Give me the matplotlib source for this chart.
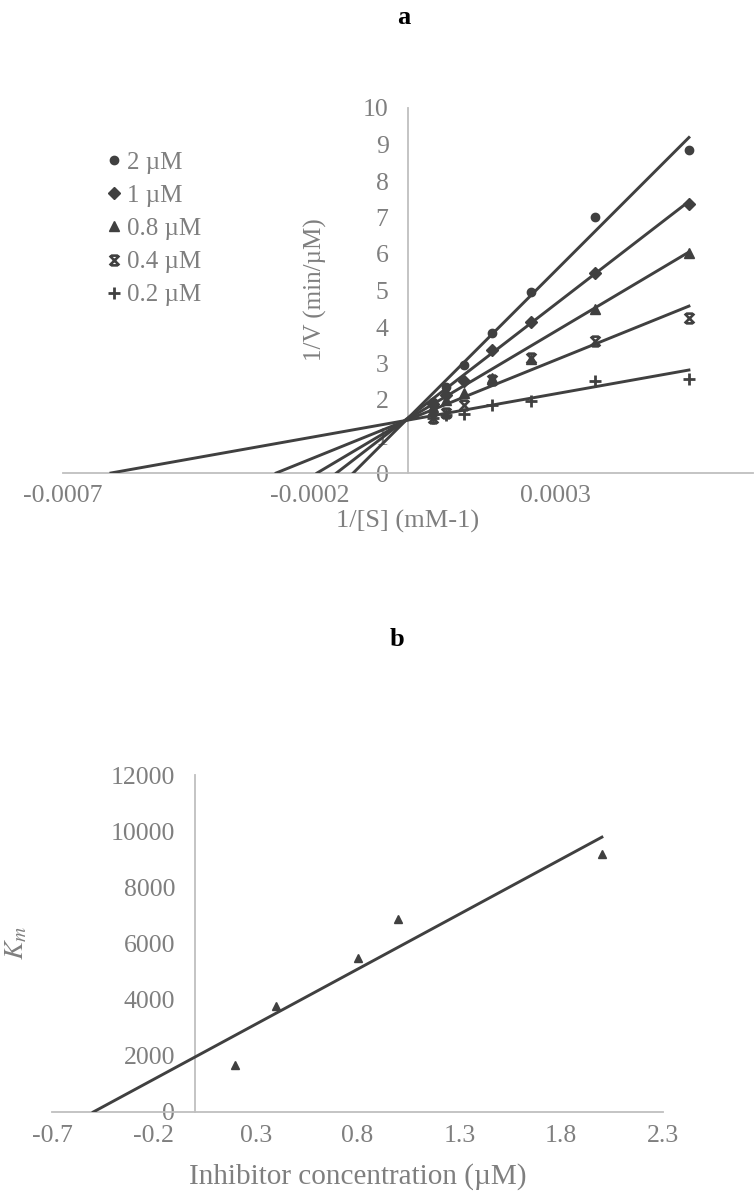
import numpy as np
import matplotlib
matplotlib.use("Agg")
import matplotlib.pyplot as plt
from matplotlib.path import Path

plt.rcParams['font.family'] = ['Liberation Serif', 'DejaVu Serif']
plt.rcParams['mathtext.fontset'] = 'stix'

#Panel a: Lineweaver-Burk data, 1/[S] and 1/V for each inhibitor concentration
inv_s = [0.00005, 0.000077, 0.000113, 0.00017, 0.00025, 0.00038, 0.00057]
v_2um = [1.95, 2.35, 2.96, 3.84, 4.95, 7.02, 8.84]
v_1um = [1.90, 2.15, 2.53, 3.38, 4.14, 5.49, 7.37]
v_08um = [1.80, 2.00, 2.19, 2.60, 3.11, 4.48, 6.02]
v_04um = [1.50, 1.65, 1.85, 2.56, 3.15, 3.62, 4.24]
v_02um = [1.50, 1.60, 1.62, 1.85, 1.96, 2.53, 2.58]
series_labels = ['2 µM', '1 µM', '0.8 µM', '0.4 µM', '0.2 µM']
#trendlines (slope, intercept)
slopes_a = [13495, 10406, 8024, 5460, 2406]
intercepts_a = [1.50, 1.51, 1.48, 1.46, 1.45]

#Panel b: secondary plot, Km vs inhibitor concentration
inhibitor = [0.2, 0.4, 0.8, 1.0, 2.0]
km_values = [1680, 3780, 5470, 6880, 9180]

text_gray = '#7f7f7f'
axis_gray = '#bfbfbf'
dark = '#404040'

#star marker: X with bars on top and bottom
star = Path([(-1, -1), (1, 1), (-1, 1), (1, -1), (-0.7, 1), (0.7, 1), (-0.7, -1), (0.7, -1)],
            [Path.MOVETO, Path.LINETO] * 4)
markers = [dict(marker='o', ms=6),
           dict(marker='D', ms=6.5),
           dict(marker='^', ms=7.5),
           dict(marker=star, ms=7, mew=1.9, mfc='none'),
           dict(marker='+', ms=8.5, mew=2)]

fig = plt.figure(figsize=(7.56, 12.02), dpi=100)


def style_axes(ax):
    for side in ['top', 'right']:
        ax.spines[side].set_visible(False)
    ax.spines['left'].set_position(('data', 0))
    ax.spines['bottom'].set_position(('data', 0))
    for side in ['left', 'bottom']:
        ax.spines[side].set_color(axis_gray)
        ax.spines[side].set_linewidth(1.3)
    ax.tick_params(length=0, labelsize=18.5, labelcolor=text_gray)
    ax.tick_params(axis='y', pad=14)
    ax.tick_params(axis='x', pad=9)
    ax.patch.set_alpha(0)


#Chart a
ax_a = fig.add_axes([63 / 756, 1 - 473 / 1202, 690 / 756, 365 / 1202])
style_axes(ax_a)
all_v = [v_2um, v_1um, v_08um, v_04um, v_02um]
handles = []
for v, m, b, mk in zip(all_v, slopes_a, intercepts_a, markers):
    x0 = -b / m
    xs = np.array([x0, max(inv_s)])
    ax_a.plot(xs, m * xs + b, color=dark, lw=2.1, zorder=3)
    h, = ax_a.plot(inv_s, v, ls='none', color=dark, mec=dark, zorder=4, **mk)
    handles.append(h)
ax_a.set_xlim(-0.0007, 0.0007)
ax_a.set_ylim(0, 10)
ax_a.set_xticks([-0.0007, -0.0002, 0.0003])
ax_a.set_xticklabels(['-0.0007', '-0.0002', '0.0003'])
ax_a.set_yticks(range(0, 11))
ax_a.legend(handles, series_labels, loc='upper left', bbox_to_anchor=(96 / 756, 1 - 141 / 1202),
            bbox_transform=fig.transFigure, frameon=False, fontsize=18, labelcolor=text_gray,
            handlelength=0.6, handletextpad=0.25, labelspacing=0.43, borderaxespad=0)

fig.text(404 / 756, 1 - 18 / 1202, 'a', ha='center', va='center', fontsize=19, fontweight='bold')
fig.text(315 / 756, 1 - 290 / 1202, '1/V (min/µM)', rotation=90, ha='center', va='center',
         fontsize=18, color=text_gray)
fig.text(408 / 756, 1 - 521 / 1202, '1/[S] (mM-1)', ha='center', va='center',
         fontsize=19, color=text_gray)

#Chart b
ax_b = fig.add_axes([52 / 756, 1 - 1112 / 1202, 611 / 756, 337 / 1202])
style_axes(ax_b)
slope_b, icpt_b = np.polyfit(inhibitor, km_values, 1)
xb = np.array([-icpt_b / slope_b, max(inhibitor)])
ax_b.plot(xb, slope_b * xb + icpt_b, color=dark, lw=2.1, zorder=3)
ax_b.plot(inhibitor, km_values, ls='none', marker='^', ms=5.5, color=dark, zorder=4)
ax_b.set_xlim(-0.7, 2.3)
ax_b.set_ylim(0, 12000)
ax_b.set_xticks(np.arange(-0.7, 2.31, 0.5))
ax_b.set_xticklabels(['-0.7', '-0.2', '0.3', '0.8', '1.3', '1.8', '2.3'])
ax_b.set_yticks(range(0, 12001, 2000))

fig.text(397 / 756, 1 - 640 / 1202, 'b', ha='center', va='center', fontsize=19, fontweight='bold')
fig.text(17 / 756, 1 - 943 / 1202, '$K_m$', rotation=90, ha='center', va='center',
         fontsize=20, color=text_gray)
fig.text(358 / 756, 1 - 1177 / 1202, 'Inhibitor concentration (µM)', ha='center', va='center',
         fontsize=21, color=text_gray)

fig.savefig('out.png', dpi=100)
